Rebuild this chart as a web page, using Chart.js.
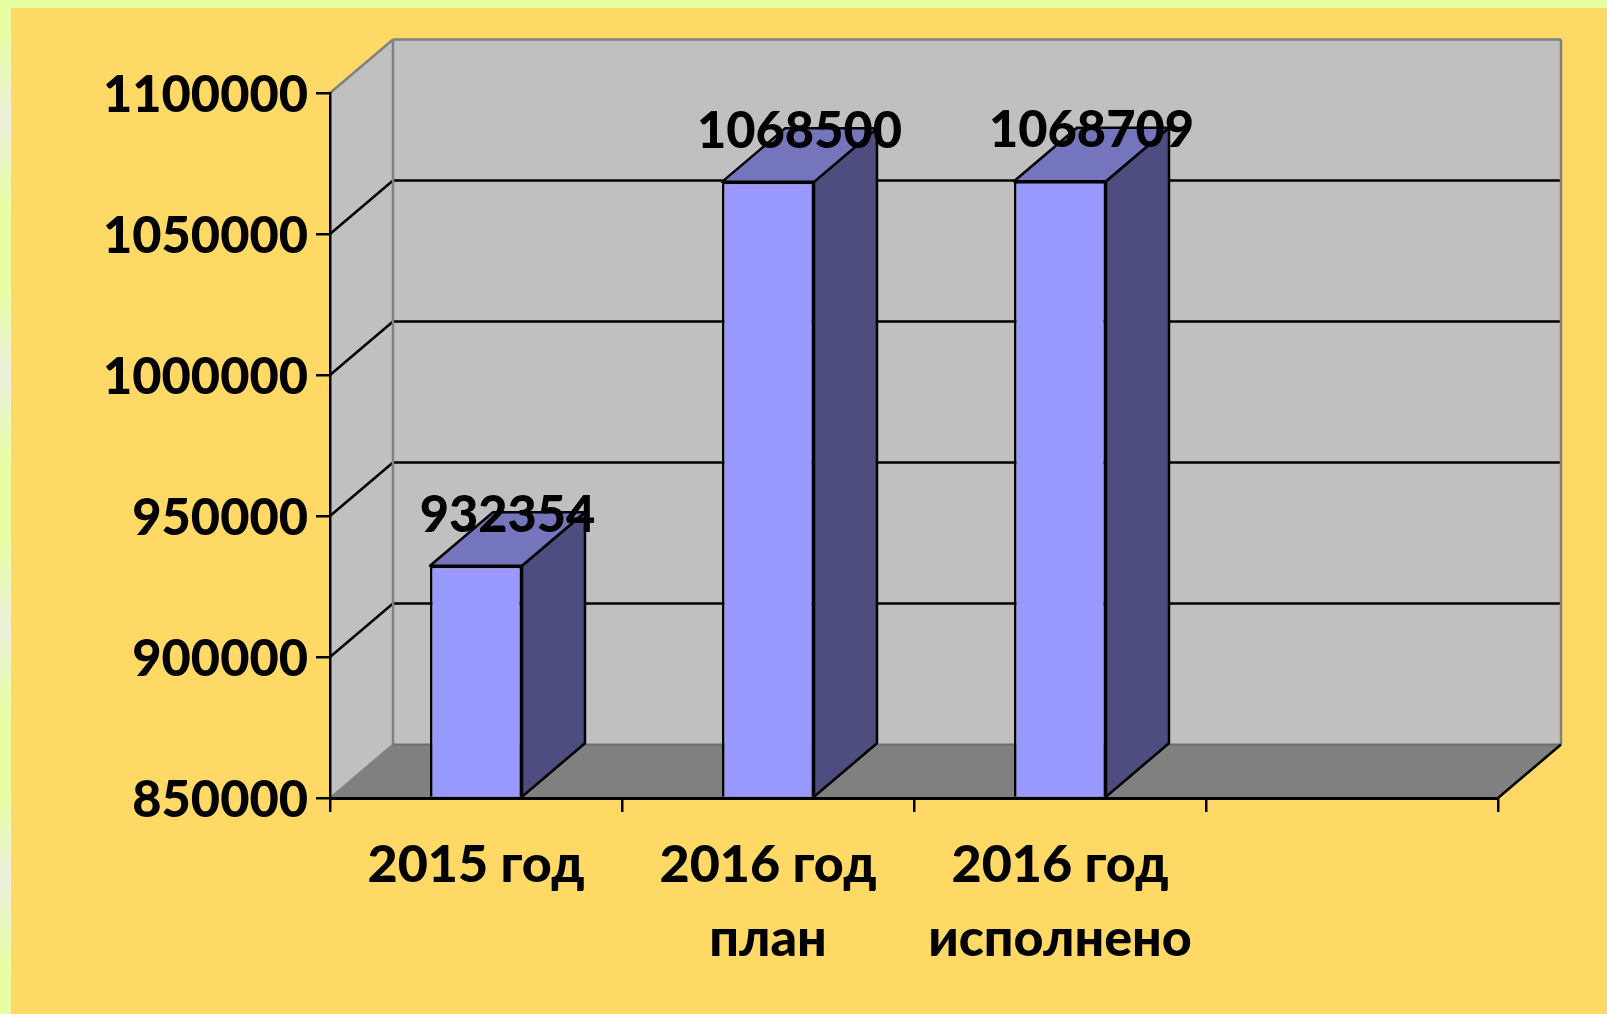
<!DOCTYPE html>
<html>
<head>
<meta charset="utf-8">
<title>chart</title>
<script src="https://cdn.jsdelivr.net/npm/chart.js@4/dist/chart.umd.min.js"></script>
<style>
  html, body { margin: 0; padding: 0; width: 1607px; height: 1014px; overflow: hidden; background: #e6ffa0; }
  #strip { position: absolute; left: 0; top: 0; width: 11px; height: 1014px;
           background: repeating-linear-gradient(#e6ffa0 0, #e6ffa0 30px, #ecf0dc 120px, #e6ffa0 215px, #e6ffa0 253px); }
  #panel { position: absolute; left: 11px; top: 8px; width: 1596px; height: 1006px; background: #ffd966; }
  canvas { position: absolute; left: 0; top: 0; }
</style>
</head>
<body>
<div id="strip"></div>
<div id="panel"></div>
<canvas id="chart" width="1607" height="1014"></canvas>
<script>
var categories = ['2015 год', ['2016 год', 'план'], ['2016 год', 'исполнено'], ''];
var values = [932354, 1068500, 1068709, null];
var yMin = 850000;
var yMax = 1100000;
var yStep = 50000;

var DX = 63, DY = 53.5;
var FONT = 'Lato, "Open Sans", sans-serif';

function poly(ctx, pts, fill, stroke, lw) {
    ctx.beginPath();
    ctx.moveTo(pts[0][0], pts[0][1]);
    for (var i = 1; i < pts.length; i++) ctx.lineTo(pts[i][0], pts[i][1]);
    ctx.closePath();
    if (fill) { ctx.fillStyle = fill; ctx.fill(); }
    if (stroke) { ctx.strokeStyle = stroke; ctx.lineWidth = lw; ctx.stroke(); }
}

function line(ctx, x1, y1, x2, y2, color, lw) {
    ctx.beginPath();
    ctx.moveTo(x1, y1);
    ctx.lineTo(x2, y2);
    ctx.strokeStyle = color;
    ctx.lineWidth = lw;
    ctx.stroke();
}

// fake 3d: walls and floor behind the normal axes
var walls = {
    id: 'walls',
    beforeDraw: function(chart) {
        var ctx = chart.ctx, a = chart.chartArea, y = chart.scales.y;
        ctx.save();
        poly(ctx, [[a.left + DX, a.top - DY], [a.right + DX, a.top - DY], [a.right + DX, a.bottom - DY], [a.left + DX, a.bottom - DY]], '#c0c0c0');
        poly(ctx, [[a.left, a.top], [a.left + DX, a.top - DY], [a.left + DX, a.bottom - DY], [a.left, a.bottom]], '#c0c0c0');
        poly(ctx, [[a.left, a.bottom], [a.left + DX, a.bottom - DY], [a.right + DX, a.bottom - DY], [a.right, a.bottom]], '#808080');
        // gridlines across side wall and back wall
        y.ticks.forEach(function(t) {
            if (t.value === yMin || t.value === yMax) return;
            var py = y.getPixelForValue(t.value);
            line(ctx, a.left, py, a.left + DX, py - DY, '#000', 2.5);
            line(ctx, a.left + DX, py - DY, a.right + DX, py - DY, '#000', 2.5);
        });
        line(ctx, a.left, a.top, a.left + DX, a.top - DY, '#808080', 2.5);
        line(ctx, a.left + DX, a.top - DY, a.right + DX, a.top - DY, '#808080', 2.5);
        line(ctx, a.left + DX, a.top - DY, a.left + DX, a.bottom - DY, '#808080', 2.5);
        line(ctx, a.right + DX, a.top - DY, a.right + DX, a.bottom - DY, '#808080', 2.5);
        line(ctx, a.left + DX, a.bottom - DY, a.right + DX, a.bottom - DY, '#6e6e6e', 2);
        line(ctx, a.left, a.bottom, a.left + DX, a.bottom - DY, '#808080', 2);
        line(ctx, a.right, a.bottom, a.right + DX, a.bottom - DY, '#000', 2.5);
        ctx.restore();
    },
    beforeDatasetsDraw: function(chart) {
        var ctx = chart.ctx;
        ctx.save();
        ctx.lineJoin = 'round';
        chart.getDatasetMeta(0).data.forEach(function(bar, i) {
            if (values[i] === null) return;
            var left = bar.x - bar.width / 2, right = bar.x + bar.width / 2;
            poly(ctx, [[right, bar.y], [right + DX, bar.y - DY], [right + DX, bar.base - DY], [right, bar.base]], '#4d4d80', '#000', 2.5);
            poly(ctx, [[left, bar.y], [left + DX, bar.y - DY], [right + DX, bar.y - DY], [right, bar.y]], '#7575bd', '#000', 2.5);
        });
        ctx.restore();
    },
    afterDatasetsDraw: function(chart) {
        var ctx = chart.ctx;
        ctx.save();
        ctx.font = '900 50.5px ' + FONT;
        ctx.fillStyle = '#000';
        ctx.textAlign = 'center';
        ctx.textBaseline = 'middle';
        chart.getDatasetMeta(0).data.forEach(function(bar, i) {
            if (values[i] === null) return;
            ctx.fillText(String(values[i]), bar.x + DX / 2, bar.y - DY + 3);
        });
        ctx.restore();
    }
};

new Chart(document.getElementById('chart').getContext('2d'), {
    type: 'bar',
    data: {
        labels: categories,
        datasets: [{
            data: values,
            base: yMin,
            backgroundColor: '#9999ff',
            borderColor: '#000',
            borderWidth: 2.5,
            barPercentage: 0.315,
            categoryPercentage: 1
        }]
    },
    plugins: [walls],
    options: {
        responsive: false,
        animation: false,
        layout: { autoPadding: false, padding: { top: 93, right: 109, left: 0, bottom: 0 } },
        plugins: { legend: { display: false }, tooltip: { enabled: false } },
        scales: {
            x: {
                offset: true,
                grid: { offset: true, drawOnChartArea: false, color: '#000', lineWidth: 2.5, tickLength: 14 },
                border: { color: '#000', width: 3 },
                ticks: { color: '#000', maxRotation: 0, autoSkip: false, padding: 16,
                         font: { family: FONT, size: 52, weight: '900', lineHeight: 1.42 } },
                afterFit: function(s) { s.height = 216; }
            },
            y: {
                min: yMin,
                max: yMax,
                grid: { drawOnChartArea: false, color: '#000', lineWidth: 2.5, tickLength: 14 },
                border: { color: '#000', width: 2.5 },
                ticks: { stepSize: yStep, color: '#000', padding: 8, labelOffset: 3,
                         font: { family: FONT, size: 50.5, weight: '900' },
                         callback: function(v) { return String(v); } },
                afterFit: function(s) { s.width = 330; }
            }
        }
    }
});
</script>
</body>
</html>
